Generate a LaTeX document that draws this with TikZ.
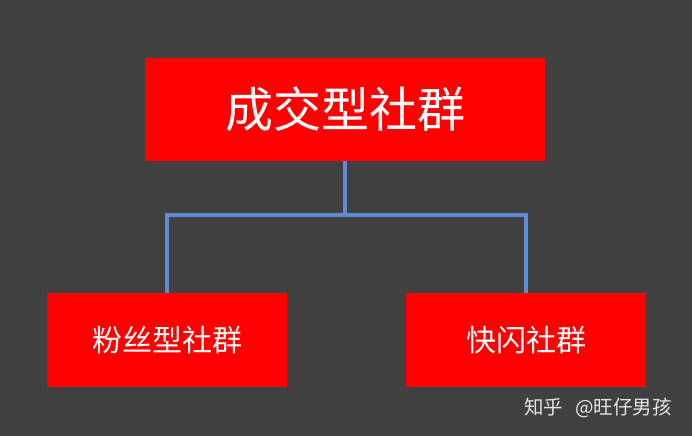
\documentclass[tikz,border=0pt]{standalone}
\usepackage{fontspec}
\newfontfamily\cjk{Noto Sans CJK SC}
\definecolor{bgdark}{RGB}{64,64,64}
\definecolor{boxred}{RGB}{255,0,0}
\definecolor{linkblue}{RGB}{95,140,210}
\tikzset{
  group/.style={fill=boxred, text=white, inner sep=0pt},
  link/.style={draw=linkblue, line width=3.5pt}
}
\begin{document}
\begin{tikzpicture}[x=1pt,y=-1pt]
        \fill[bgdark] (0,0) rectangle (692,436);
        \useasboundingbox (0,0) rectangle (692,436);
        \node[group, minimum width=400pt, minimum height=103pt, font=\cjk\fontsize{48}{52}\selectfont] at (345,109.5) (deal) {成交型社群};
        \node[group, minimum width=240pt, minimum height=94pt, font=\cjk\fontsize{30}{34}\selectfont] at (167,340) (fans) {粉丝型社群};
        \node[group, minimum width=240pt, minimum height=94pt, font=\cjk\fontsize{30}{34}\selectfont] at (526,340) (flash) {快闪社群};
        \coordinate (fork) at (345,215);
        \draw[link] (deal) -- (fork);
        \draw[link] (fans.north) |- (fork) -| (flash.north);
        \node[text=white!90!black, font=\cjk\fontsize{19.5}{22}\selectfont] at (598,408) (credit) {知乎\hspace{0.6em}@旺仔男孩};
      \end{tikzpicture}
\end{document}
